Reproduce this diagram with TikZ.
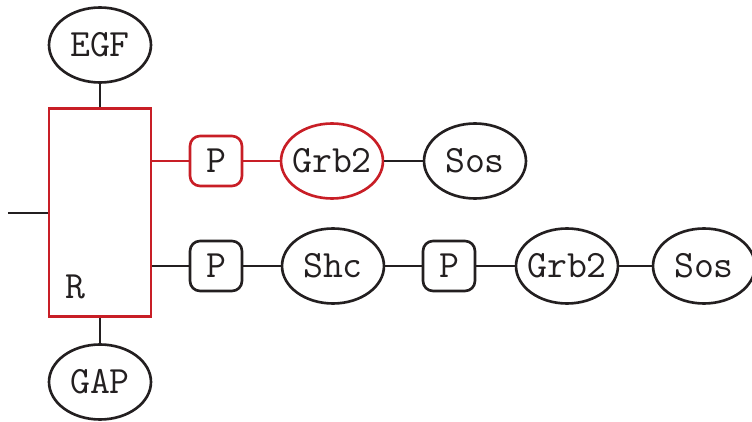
\documentclass[tikz,border=0pt]{standalone}
\usetikzlibrary{shapes.geometric}
\definecolor{ink}{RGB}{35,31,32}
\definecolor{sigred}{RGB}{200,30,38}

\begin{document}
\begin{tikzpicture}[x=0.02cm, y=-0.02cm, line width=1.5pt, color=ink,
  every node/.style={font=\ttfamily\fontsize{22}{24}\selectfont, inner sep=0pt},
  prot/.style={draw, ellipse, inner xsep=-6pt, minimum width=2.04cm, minimum height=1.5cm},
  phos/.style={draw, rounded corners=0.2cm, minimum width=1.04cm, minimum height=1.0cm},
  hot/.style={draw=sigred}
]
\useasboundingbox (0,0) rectangle (752,422);

% receptor with its ligand and GAP
\node[draw=sigred, minimum width=2.04cm, minimum height=4.16cm] (rec) at (100,212.5) {};
\node at (75,287) {R};
\node[prot] (egf) at (100,45) {EGF};
\node[prot] (gap) at (100,382) {GAP};
\coordinate (mem) at (8,213);

% upper chain (direct binding)
\node[phos, hot] (p1) at (216,161) {P};
\node[prot, hot] (grb1) at (332,161) {Grb2};
\node[prot] (sos1) at (475,161) {Sos};

% lower chain (via Shc)
\node[phos] (p2) at (216,266) {P};
\node[prot] (shc) at (333,266) {Shc};
\node[phos] (p3) at (449,266) {P};
\node[prot] (grb2) at (567,266) {Grb2};
\node[prot] (sos2) at (704,266) {Sos};

\draw (egf) -- (rec);
\draw (rec) -- (gap);
\draw (mem) -- (rec.west |- mem);
\draw[sigred] (rec.east |- p1) -- (p1);
\draw[sigred] (p1) -- (grb1);
\draw (grb1) -- (sos1);
\draw (rec.east |- p2) -- (p2);
\draw (p2) -- (shc);
\draw (shc) -- (p3);
\draw (p3) -- (grb2);
\draw (grb2) -- (sos2);
\end{tikzpicture}
\end{document}
